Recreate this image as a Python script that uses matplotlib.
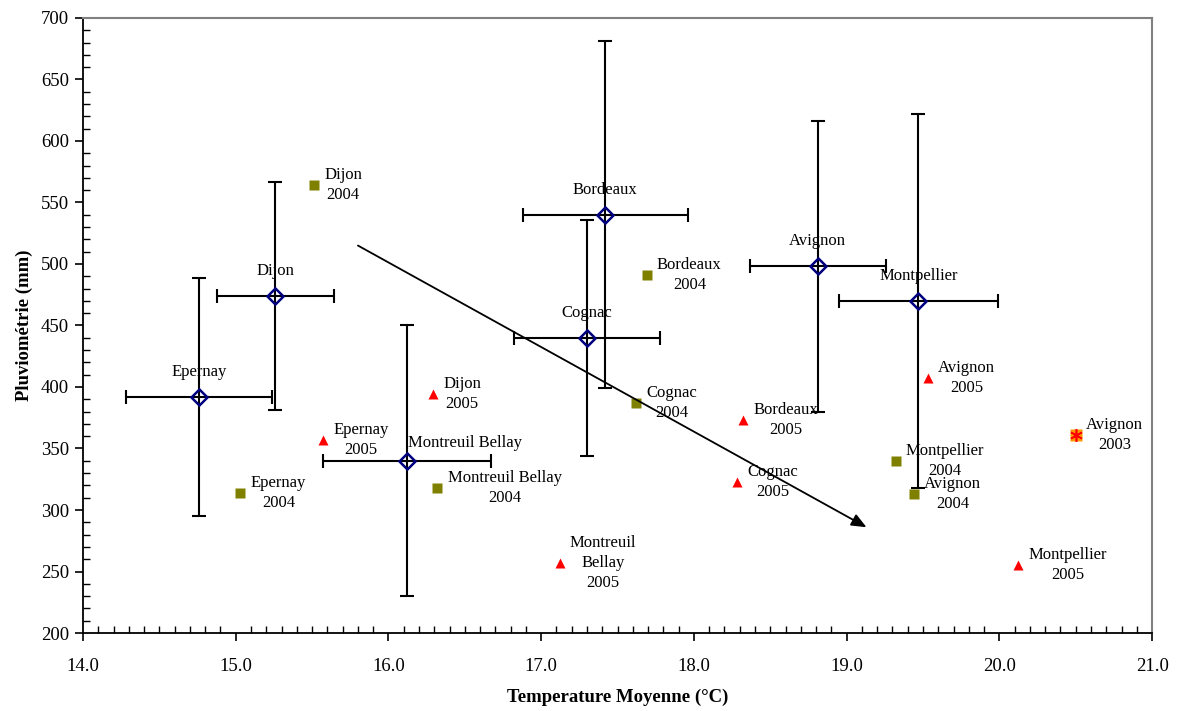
import numpy as np
import matplotlib.pyplot as plt
from matplotlib.ticker import MultipleLocator, FormatStrFormatter

plt.rcParams["font.family"] = ["Liberation Serif", "DejaVu Serif"]

# site means with spread (temperature in degC, rainfall in mm)
sites = ["Epernay", "Dijon", "Montreuil Bellay", "Cognac", "Bordeaux", "Avignon", "Montpellier"]
mean_t = [14.76, 15.26, 16.12, 17.30, 17.42, 18.81, 19.47]
mean_p = [392, 474, 340, 440, 540, 498, 470]
err_t = [0.48, 0.38, 0.55, 0.475, 0.54, 0.445, 0.52]
err_p = [97, 93, 110, 96, 141, 118, 152]

# 2004 season
lab_04 = ["Dijon\n2004", "Epernay\n2004", "Montreuil Bellay\n2004", "Bordeaux\n2004",
          "Cognac\n2004", "Montpellier\n2004", "Avignon\n2004"]
t_04 = [15.51, 15.03, 16.32, 17.69, 17.62, 19.32, 19.44]
p_04 = [564, 314, 318, 491, 387, 340, 313]

# 2005 season
lab_05 = ["Epernay\n2005", "Dijon\n2005", "Montreuil\nBellay\n2005", "Bordeaux\n2005",
          "Cognac\n2005", "Avignon\n2005", "Montpellier\n2005"]
t_05 = [15.57, 16.29, 17.12, 18.32, 18.28, 19.53, 20.12]
p_05 = [357, 394, 257, 373, 323, 407, 255]

# 2003 heatwave
lab_03 = ["Avignon\n2003"]
t_03 = [20.50]
p_03 = [361]

# trend arrow (start, end)
arrow_t = [15.80, 19.13]
arrow_p = [515, 286]

fig = plt.figure(figsize=(11.78, 7.11), dpi=100)
ax = fig.add_axes([0.0705, 0.1097, 0.9075, 0.865])

ax.errorbar(mean_t, mean_p, xerr=err_t, yerr=err_p, fmt="none", ecolor="black",
            elinewidth=1.5, capsize=5, capthick=1.5, zorder=2)
ax.plot(mean_t, mean_p, "D", ms=8, mfc="none", mec="#000080", mew=1.8, zorder=3)
for name, t, p in zip(sites, mean_t, mean_p):
    if name == "Montreuil Bellay":
        # sits to the right so it clears the Epernay 2005 label
        ax.annotate(name, (t, p), xytext=(1, 13), textcoords="offset points",
                    ha="left", va="center", fontsize=12)
    else:
        ax.annotate(name, (t, p), xytext=(0, 18), textcoords="offset points",
                    ha="center", va="center", fontsize=12)

ax.plot(t_04, p_04, "s", ms=7, color="#808000", mec="none", zorder=3)
ax.plot(t_05, p_05, "^", ms=7, color="red", mec="none", zorder=3)
ax.plot(t_03, p_03, "s", ms=9, color="#FF9900", mec="none", zorder=3)
ax.plot(t_03, p_03, marker=(6, 2, 0), ms=9, color="red", mew=1.2, ls="none", zorder=4)

for labs, ts, ps in [(lab_04, t_04, p_04), (lab_05, t_05, p_05), (lab_03, t_03, p_03)]:
    for lab, t, p in zip(labs, ts, ps):
        ax.annotate(lab, (t, p), xytext=(7.5, 0), textcoords="offset points",
                    ha="left", va="center", multialignment="center",
                    fontsize=12, linespacing=1.35)

ax.annotate("", xy=(arrow_t[1], arrow_p[1]), xytext=(arrow_t[0], arrow_p[0]),
            arrowprops=dict(arrowstyle="-|>,head_length=0.9,head_width=0.38",
                            color="black", lw=1.3, shrinkA=0, shrinkB=0))

ax.set_xlim(14, 21)
ax.set_ylim(200, 700)
ax.xaxis.set_major_locator(MultipleLocator(1))
ax.xaxis.set_minor_locator(MultipleLocator(0.1))
ax.xaxis.set_major_formatter(FormatStrFormatter("%.1f"))
ax.yaxis.set_major_locator(MultipleLocator(50))
ax.yaxis.set_minor_locator(MultipleLocator(10))
ax.tick_params(which="major", direction="out", length=6, width=1.2, labelsize=13.5, pad=4)
ax.tick_params(axis="x", which="major", pad=12)
ax.tick_params(which="minor", direction="in", length=5, width=1.0)

for s in ["left", "bottom"]:
    ax.spines[s].set_color("black")
    ax.spines[s].set_linewidth(1.3)
for s in ["top", "right"]:
    ax.spines[s].set_color("#808080")
    ax.spines[s].set_linewidth(1.5)

ax.set_xlabel("Temperature Moyenne (°C)", fontsize=13.5, fontweight="bold", labelpad=10)
ax.set_ylabel("Pluviométrie (mm)", fontsize=13.5, fontweight="bold", labelpad=6)

fig.savefig("out.png", dpi=100)
